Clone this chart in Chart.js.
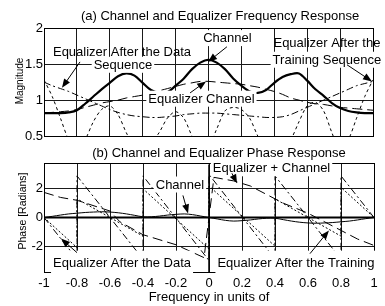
<!DOCTYPE html>
<html><head><meta charset="utf-8">
<script src="https://cdn.jsdelivr.net/npm/chart.js@4.4.1/dist/chart.umd.min.js"></script>
<style>
html,body{margin:0;padding:0;background:#fff;overflow:hidden;width:385px;height:306px}
canvas{position:absolute;left:0}
#c1{top:0}
#c2{top:145px}
</style></head><body>
<canvas id="c1" width="385" height="145"></canvas>
<canvas id="c2" width="385" height="161"></canvas>
<script>
const FONT = '"Liberation Sans", Arial, Helvetica, sans-serif';

// ---------- data: (a) magnitude ----------
const freq = [-1,-0.95,-0.9,-0.85,-0.8,-0.75,-0.7,-0.65,-0.6,-0.55,-0.5,-0.45,-0.4,-0.35,-0.3,-0.25,-0.2,-0.15,-0.1,-0.05,0,
              0.05,0.1,0.15,0.2,0.25,0.3,0.35,0.4,0.45,0.5,0.55,0.6,0.65,0.7,0.75,0.8,0.85,0.9,0.95,1];
const channelMag = [0.82,0.82,0.82,0.83,0.86,0.95,1.05,1.15,1.24,1.33,1.37,1.34,1.24,1.14,1.1,1.11,1.2,1.3,1.43,1.52,1.56,
                    1.52,1.43,1.3,1.2,1.12,1.1,1.14,1.24,1.32,1.36,1.37,1.27,1.15,1.06,0.96,0.89,0.85,0.83,0.82,0.82];
const eqChannelMag = [0.82,0.83,0.84,0.85,0.87,0.9,0.93,0.96,0.98,1.0,1.03,1.05,1.07,1.1,1.13,1.16,1.19,1.22,1.24,1.26,1.26,
                      1.25,1.24,1.23,1.22,1.2,1.18,1.15,1.12,1.08,1.03,1.0,0.97,0.95,0.94,0.92,0.9,0.89,0.88,0.87,0.86];
const eqDataMag = [1.25,1.2,1.16,1.12,1.07,1.02,0.97,0.92,0.87,0.83,0.8,0.78,0.77,0.76,0.76,0.77,0.78,0.8,0.81,0.82,0.82,
                   0.82,0.81,0.8,0.79,0.78,0.77,0.76,0.76,0.77,0.8,0.85,0.9,0.95,1.0,1.05,1.1,1.15,1.2,1.23,1.26];
const eqTrainMag = [1.28,1.05,0.75,0.45,0.3,0.45,0.7,0.87,0.92,0.8,0.55,0.35,0.3,0.4,0.55,0.75,0.84,0.75,0.5,0.3,0.35,
                    0.6,0.85,0.9,0.87,0.75,0.5,0.3,0.2,0.3,0.45,0.7,0.92,0.97,0.85,0.55,0.3,0.45,0.75,1.05,1.28];

// ---------- data: (b) phase ----------
const channelPhase = [0,0.08,0.17,0.25,0.3,0.35,0.38,0.4,0.38,0.33,0.25,0.15,0.05,0.05,0.1,0.17,0.22,0.25,0.2,0.1,0,
                      -0.1,-0.2,-0.25,-0.22,-0.17,-0.1,-0.05,-0.05,-0.15,-0.25,-0.33,-0.38,-0.4,-0.38,-0.35,-0.3,-0.25,-0.17,-0.08,0];
const sumPhaseX = [-1, 1];
const sumPhaseY = [0, 0];
const jumpX = [0, 0];
const jumpY = [-3.8, 3.7];
const eqDataPhaseX = [-1,-0.8,-0.8,-0.4,-0.4,0,0,0.4,0.4,0.8,0.8,1];
const eqDataPhaseY = [0,-2.9,2.9,-2.9,2.9,-3,3,-2.9,2.9,-2.9,2.9,0];
const eqTrainPhaseX = [-1,-0.8,-0.8,-0.4,-0.4,0,0,0.4,0.4,0.8,0.8,1];
const eqTrainPhaseY = [0,-2.1,1.3,-1.3,2.0,-2.2,2.2,-2.0,1.3,-1.3,2.1,0];
const eqChanPhaseX = [-1,-0.9,-0.8,-0.6,-0.54,-0.4,-0.2,-0.03,0.03,0.15,0.25,0.45,0.6,0.9,1];
const eqChanPhaseY = [1.75,1.4,1.2,0.45,-0.3,-1.2,-1.9,-2.8,2.8,2.55,2.2,1.0,0.3,-1.5,-1.95];

// ---------- ticks ----------
const xTicks = [-1,-0.8,-0.6,-0.4,-0.2,0,0.2,0.4,0.6,0.8,1];
const xTickLabels = ['-1','-0.8','-0.6','-0.4','-0.2','0','0.2','0.4','0.6','0.8','1'];
const magTicks = [0.5,1,1.5,2];
const magTickLabels = ['0.5','1','1.5','2'];
const phaseTicks = [-2,0,2];
const phaseTickLabels = ['-2','0','2'];

// ---------- annotations (data coordinates) ----------
const magLabels = [
  {t:'Equalizer After the Data', x:-0.526, y:1.67, bg:false},
  {t:'Sequence', x:-0.52, y:1.49, bg:true},
  {t:'Channel', x:0.115, y:1.86, bg:true},
  {t:'Equalizer After the', x:0.72, y:1.79, bg:false},
  {t:'Training Sequence', x:0.72, y:1.56, bg:true},
  {t:'Equalizer Channel', x:-0.043, y:1.02, bg:true}
];
const magArrows = [
  [-0.781,1.53,-0.891,1.17],
  [0.112,1.74,-0.003,1.53],
  [0.842,1.49,0.994,1.26],
  [-0.112,1.1,-0.015,1.26]
];
const phaseLabels = [
  {t:'Channel', x:-0.176, y:2.3, bg:true},
  {t:'Equalizer + Channel', x:0.379, y:3.43, bg:true},
  {t:'Equalizer After the Data', x:-0.527, y:-3.15, bg:true, padB:8, padT:5},
  {t:'Equalizer After the Training', x:0.527, y:-3.15, bg:true, padB:8, padT:5, padR:12}
];
const phaseArrows = [
  [-0.158,1.54,-0.127,0.28],
  [0.139,3.08,0.17,2.38],
  [-0.8,-2.45,-0.897,-1.47],
  [0.612,-2.52,0.727,-0.9]
];

const pts = (xs, ys) => xs.map((x,i)=>({x:x, y:ys[i]}));

function arrow(ctx, x1,y1,x2,y2){
  ctx.save();
  ctx.strokeStyle='#000'; ctx.fillStyle='#000'; ctx.lineWidth=1; ctx.setLineDash([]);
  const a=Math.atan2(y2-y1,x2-x1), L=9, W=3.5;
  ctx.beginPath(); ctx.moveTo(x1,y1); ctx.lineTo(x2-Math.cos(a)*L*0.6,y2-Math.sin(a)*L*0.6); ctx.stroke();
  ctx.beginPath();
  ctx.moveTo(x2,y2);
  ctx.lineTo(x2-L*Math.cos(a)+W*Math.sin(a), y2-L*Math.sin(a)-W*Math.cos(a));
  ctx.lineTo(x2-L*Math.cos(a)-W*Math.sin(a), y2-L*Math.sin(a)+W*Math.cos(a));
  ctx.closePath(); ctx.fill();
  ctx.restore();
}

function makePlugin(labels, arrows, extra){
  return {
    id:'deco',
    afterDraw(chart){
      const ctx=chart.ctx, ca=chart.chartArea, xs=chart.scales.x, ys=chart.scales.y;
      ctx.save();
      ctx.strokeStyle='#000'; ctx.lineWidth=1; ctx.setLineDash([]);
      ctx.strokeRect(Math.round(ca.left)+0.5, Math.round(ca.top)+0.5, Math.round(ca.right-ca.left)-1+1, Math.round(ca.bottom-ca.top));
      ctx.font='13px '+FONT; ctx.textAlign='center'; ctx.textBaseline='middle';
      labels.forEach(l=>{
        const px=xs.getPixelForValue(l.x), py=ys.getPixelForValue(l.y);
        if(l.bg){
          const w=ctx.measureText(l.t).width;
          const pl=2, pr=(l.padR||2), pt=(l.padT||1), pb=(l.padB||1);
          ctx.fillStyle='#fff';
          ctx.fillRect(px-w/2-pl, py-7-pt, w+pl+pr, 14+pt+pb);
        }
        ctx.fillStyle='#000';
        ctx.fillText(l.t, px, py+0.5);
      });
      arrows.forEach(a=>arrow(ctx, xs.getPixelForValue(a[0]), ys.getPixelForValue(a[1]), xs.getPixelForValue(a[2]), ys.getPixelForValue(a[3])));
      extra(ctx);
      ctx.restore();
    }
  };
}

function baseScales(yMin,yMax,yT,yL,xHeight,showX){
  return {
    x:{type:'linear', min:-1, max:1,
       afterBuildTicks:s=>{s.ticks=xTicks.map(v=>({value:v}));},
       afterFit:s=>{s.height=xHeight;},
       grid:{color:'#1a1a1a', lineWidth:1, drawTicks:false},
       border:{display:true,color:'#000'},
       ticks:{display:showX, padding:4, color:'#000', font:{family:FONT,size:13},
              callback:(v,i)=>xTickLabels[i], maxRotation:0, autoSkip:false}},
    y:{type:'linear', min:yMin, max:yMax,
       afterBuildTicks:s=>{s.ticks=yT.map(v=>({value:v}));},
       afterFit:s=>{s.width=44;},
       grid:{color:'#1a1a1a', lineWidth:1, drawTicks:false},
       border:{display:true,color:'#000'},
       ticks:{padding:1, color:'#000', font:{family:FONT,size:13}, callback:(v,i)=>yL[i], autoSkip:false}}
  };
}

Chart.defaults.animation=false;

new Chart(document.getElementById('c1'),{
  type:'line',
  data:{datasets:[
    {data:pts(freq,eqTrainMag), borderColor:'#000', borderWidth:1, borderDash:[3,3], pointRadius:0, tension:0.3},
    {data:pts(freq,eqDataMag), borderColor:'#000', borderWidth:1, borderDash:[7,3,2,3], pointRadius:0, tension:0.3},
    {data:pts(freq,eqChannelMag), borderColor:'#000', borderWidth:1, borderDash:[10,5], pointRadius:0, tension:0.3},
    {data:pts(freq,channelMag), borderColor:'#000', borderWidth:2.2, pointRadius:0, tension:0.3}
  ]},
  options:{responsive:false, devicePixelRatio:1, animation:false,
    layout:{padding:{top:28,right:12,left:0,bottom:0}},
    plugins:{legend:{display:false}, tooltip:{enabled:false}},
    scales:baseScales(0.5,2,magTicks,magTickLabels,8,false)},
  plugins:[makePlugin(magLabels,magArrows,ctx=>{
    ctx.fillStyle='#000'; ctx.textAlign='center'; ctx.textBaseline='middle';
    ctx.font='13px '+FONT;
    ctx.fillText('(a) Channel and Equalizer Frequency Response', 220, 16);
    ctx.save(); ctx.translate(20,81); ctx.rotate(-Math.PI/2);
    ctx.font='10px '+FONT; ctx.fillText('Magnitude',0,0); ctx.restore();
  })]
});

new Chart(document.getElementById('c2'),{
  type:'line',
  data:{datasets:[
    {data:pts(eqTrainPhaseX,eqTrainPhaseY), borderColor:'#000', borderWidth:1, borderDash:[2,2], pointRadius:0},
    {data:pts(eqDataPhaseX,eqDataPhaseY), borderColor:'#000', borderWidth:1, borderDash:[7,3,2,3], pointRadius:0},
    {data:pts(eqChanPhaseX,eqChanPhaseY), borderColor:'#000', borderWidth:1, borderDash:[10,5], pointRadius:0, spanGaps:false},
    {data:pts(freq,channelPhase), borderColor:'#000', borderWidth:1, pointRadius:0, tension:0.3},
    {data:pts(jumpX,jumpY), borderColor:'#000', borderWidth:1.5, pointRadius:0},
    {data:pts(sumPhaseX,sumPhaseY), borderColor:'#000', borderWidth:2.2, pointRadius:0}
  ]},
  options:{responsive:false, devicePixelRatio:1, animation:false,
    layout:{padding:{top:18,right:11,left:0,bottom:0}},
    plugins:{legend:{display:false}, tooltip:{enabled:false}},
    scales:baseScales(-3.8,3.8,phaseTicks,phaseTickLabels,34,true)},
  plugins:[makePlugin(phaseLabels,phaseArrows,ctx=>{
    ctx.fillStyle='#000'; ctx.textAlign='center'; ctx.textBaseline='middle';
    ctx.font='13px '+FONT;
    ctx.fillText('(b) Channel and Equalizer Phase Response', 219, 8);
    ctx.fillText('Frequency in units of', 209, 152);
    ctx.save(); ctx.translate(23,66); ctx.rotate(-Math.PI/2);
    ctx.font='10.5px '+FONT; ctx.fillText('Phase [Radians]',0,0); ctx.restore();
  })]
});
</script>
</body></html>
